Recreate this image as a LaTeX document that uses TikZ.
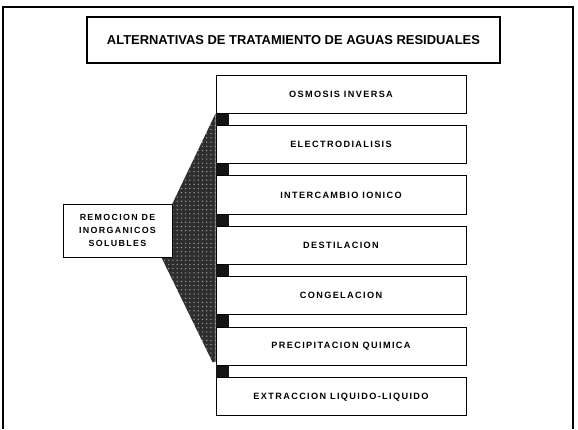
\documentclass[tikz,border=0pt]{standalone}
\usepackage{fontspec}
\setmainfont{Liberation Sans}
\newfontfamily\boxfont{Liberation Sans}[LetterSpace=15]
\usepackage{tikz}
\usetikzlibrary{positioning, calc, patterns, backgrounds}

\begin{document}
\begin{tikzpicture}[x=0.025cm, y=-0.025cm,
    frame/.style={draw=black, line width=1.2pt},
    titlebox/.style={draw=black, thick, rectangle, minimum width=10.325cm, minimum height=1.15cm, font=\fontsize{9.2}{11}\selectfont\bfseries},
    method/.style={draw=black, semithick, rectangle, fill=white, minimum width=6.25cm, minimum height=0.95cm, inner sep=0pt, font=\fontsize{6.5}{7.5}\boxfont\bfseries},
    groupbox/.style={draw=black, semithick, rectangle, fill=white, minimum width=2.725cm, minimum height=1.325cm, inner sep=0pt, align=center, font=\fontsize{6.3}{9.2}\boxfont\bfseries},
    wedge/.style={fill=black!82, postaction={pattern=dots, pattern color=black!35}},
    tab/.style={fill=black!92}
]
\useasboundingbox (0,0) rectangle (578,429);

% Rahmen
\draw[frame] (3,429) -- (3,7) -- (573,7) -- (573,429);

% Knoten
\node[titlebox] (title) at (293.5,40) {ALTERNATIVAS DE TRATAMIENTO DE AGUAS RESIDUALES};
\node[method] (m1) at (341,94) {OSMOSIS INVERSA};
\node[method, below=0.29cm of m1] (m2) {ELECTRODIALISIS};
\node[method, below=0.29cm of m2] (m3) {INTERCAMBIO IONICO};
\node[method, below=0.29cm of m3] (m4) {DESTILACION};
\node[method, below=0.29cm of m4] (m5) {CONGELACION};
\node[method, below=0.29cm of m5] (m6) {PRECIPITACION QUIMICA};
\node[method, below=0.29cm of m6] (m7) {EXTRACCION LIQUIDO-LIQUIDO};
\node[groupbox] (grp) at (117.5,230.5) {REMOCION DE\\INORGANICOS\\SOLUBLES};

% Keil und Laschen
\begin{scope}[on background layer]
\fill[wedge] (m1.south west) -- (grp.north east) -- ($(grp.south east)+(-11,0)$) -- ($(m6.south west)+(-3,-3.5)$) -- ($(m6.south west)+(0,-3.5)$) -- cycle;
\foreach \i/\j in {1/2, 2/3, 3/4, 4/5, 5/6, 6/7}
    \fill[tab] (m\i.south west) rectangle ($(m\j.north west)+(13,0)$);
\end{scope}

\end{tikzpicture}
\end{document}
